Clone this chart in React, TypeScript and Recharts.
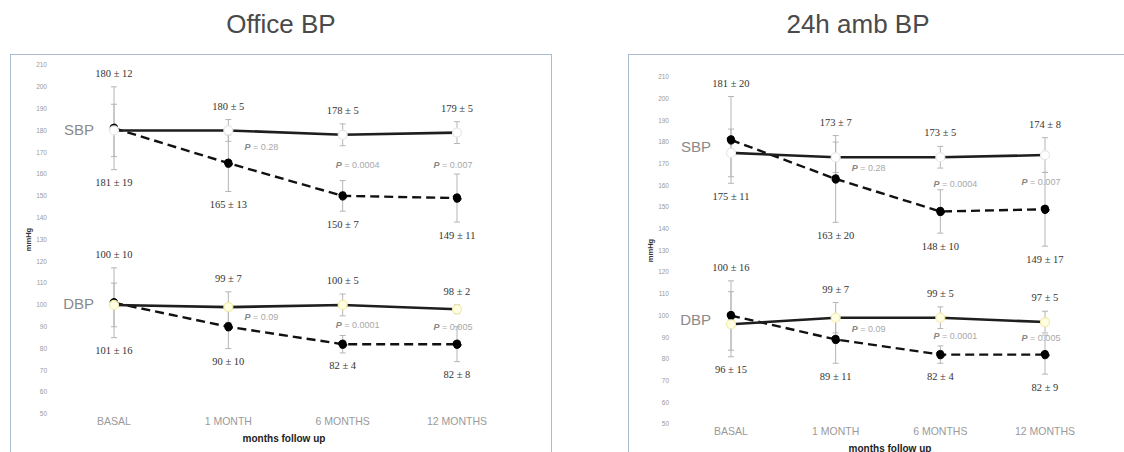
import { ErrorBar, Label, LabelList, Line, LineChart, XAxis, YAxis } from "recharts";

const CATEGORIES = ["BASAL", "1 MONTH", "6 MONTHS", "12 MONTHS"];
const Y_TICKS = [50, 60, 70, 80, 90, 100, 110, 120, 130, 140, 150, 160, 170, 180, 190, 200, 210];

// Office BP — solid line (a) and dashed line (b)
const OFFICE_SBP_A = [180, 180, 178, 179];
const OFFICE_SBP_A_SD = [12, 5, 5, 5];
const OFFICE_SBP_B = [181, 165, 150, 149];
const OFFICE_SBP_B_SD = [19, 13, 7, 11];
const OFFICE_SBP_P = ["", "0.28", "0.0004", "0.007"];
const OFFICE_SBP_UPPER_IS_A = [true, true, true, true];

const OFFICE_DBP_A = [100, 99, 100, 98];
const OFFICE_DBP_A_SD = [10, 7, 5, 2];
const OFFICE_DBP_B = [101, 90, 82, 82];
const OFFICE_DBP_B_SD = [16, 10, 4, 8];
const OFFICE_DBP_P = ["", "0.09", "0.0001", "0.005"];
const OFFICE_DBP_UPPER_IS_A = [true, true, true, true];

// 24h ambulatory BP
const AMB_SBP_A = [175, 173, 173, 174];
const AMB_SBP_A_SD = [11, 7, 5, 8];
const AMB_SBP_B = [181, 163, 148, 149];
const AMB_SBP_B_SD = [20, 20, 10, 17];
const AMB_SBP_P = ["", "0.28", "0.0004", "0.007"];
const AMB_SBP_UPPER_IS_A = [false, true, true, true];

const AMB_DBP_A = [96, 99, 99, 97];
const AMB_DBP_A_SD = [15, 7, 5, 5];
const AMB_DBP_B = [100, 89, 82, 82];
const AMB_DBP_B_SD = [16, 11, 4, 9];
const AMB_DBP_P = ["", "0.09", "0.0001", "0.005"];
const AMB_DBP_UPPER_IS_A = [false, true, true, true];

type Group = {
  name: string;
  a: number[];
  aSd: number[];
  b: number[];
  bSd: number[];
  p: string[];
  upperIsA: boolean[];
};

const pm = (v: number, sd: number) => `${v} ± ${sd}`;

function buildRows(s: Group, d: Group) {
  return CATEGORIES.map((cat, i) => {
    const row: Record<string, string | number> = { cat };
    for (const [k, g] of [["s", s], ["d", d]] as [string, Group][]) {
      const a = g.a[i];
      const b = g.b[i];
      const aText = pm(a, g.aSd[i]);
      const bText = pm(b, g.bSd[i]);
      row[k + "a"] = a;
      row[k + "aSd"] = g.aSd[i];
      row[k + "b"] = b;
      row[k + "bSd"] = g.bSd[i];
      row[k + "Top"] = Math.max(a + g.aSd[i], b + g.bSd[i]);
      row[k + "Bot"] = Math.min(a - g.aSd[i], b - g.bSd[i]);
      row[k + "TopText"] = g.upperIsA[i] ? aText : bText;
      row[k + "BotText"] = g.upperIsA[i] ? bText : aText;
      row[k + "Mid"] = (a + b) / 2;
      row[k + "Tag"] = i === 0 ? g.name : g.p[i];
    }
    return row;
  });
}

const officeRows = buildRows(
  { name: "SBP", a: OFFICE_SBP_A, aSd: OFFICE_SBP_A_SD, b: OFFICE_SBP_B, bSd: OFFICE_SBP_B_SD, p: OFFICE_SBP_P, upperIsA: OFFICE_SBP_UPPER_IS_A },
  { name: "DBP", a: OFFICE_DBP_A, aSd: OFFICE_DBP_A_SD, b: OFFICE_DBP_B, bSd: OFFICE_DBP_B_SD, p: OFFICE_DBP_P, upperIsA: OFFICE_DBP_UPPER_IS_A }
);

const ambRows = buildRows(
  { name: "SBP", a: AMB_SBP_A, aSd: AMB_SBP_A_SD, b: AMB_SBP_B, bSd: AMB_SBP_B_SD, p: AMB_SBP_P, upperIsA: AMB_SBP_UPPER_IS_A },
  { name: "DBP", a: AMB_DBP_A, aSd: AMB_DBP_A_SD, b: AMB_DBP_B, bSd: AMB_DBP_B_SD, p: AMB_DBP_P, upperIsA: AMB_DBP_UPPER_IS_A }
);

const SANS = "'Liberation Sans', Arial, sans-serif";
const SERIF = "'Liberation Serif', serif";
const P_DX = [0, 33, 15, -4];

function tagContent(props: any) {
  const vb = props.viewBox || {};
  const x = vb.x ?? props.x;
  const y = vb.y ?? props.y;
  const value = String(props.value ?? "");
  const index = typeof props.index === "number" ? props.index : 1;
  if (!value) return null;
  if (value === "SBP" || value === "DBP") {
    return (
      <text x={x - 20} y={y} textAnchor="end" dominantBaseline="central" fontSize={15} fill="#8a8a8a" fontFamily={SANS}>
        {value}
      </text>
    );
  }
  return (
    <text x={x + (P_DX[index] ?? 12)} y={y} textAnchor="middle" dominantBaseline="central" fontSize={9} fill="#a8a8a8" fontFamily={SANS}>
      <tspan fontStyle="italic" fontWeight="bold" fill="#888">P</tspan>
      {` = ${value}`}
    </text>
  );
}

function openDot(fill: string, stroke: string) {
  return (props: any) => (
    <circle key={`dot-${props.index}`} cx={props.cx} cy={props.cy} r={4.5} fill={fill} stroke={stroke} strokeWidth={1.2} />
  );
}

function Panel({
  rows,
  width,
  height,
  marginTop,
  marginRight,
  marginBottom,
  axisWidth,
  xAxisHeight,
  padLeft,
  padRight,
}: {
  rows: Record<string, string | number>[];
  width: number;
  height: number;
  marginTop: number;
  marginRight: number;
  marginBottom: number;
  axisWidth: number;
  xAxisHeight: number;
  padLeft: number;
  padRight: number;
}) {
  const groups = [
    { k: "s", dot: openDot("#ffffff", "#e6e6e6") },
    { k: "d", dot: openDot("#fffde2", "#f1eba8") },
  ];
  return (
    <LineChart
      width={width}
      height={height}
      data={rows}
      margin={{ top: marginTop, right: marginRight, bottom: marginBottom, left: 0 }}
    >
      <XAxis
        dataKey="cat"
        axisLine={false}
        tickLine={false}
        tickSize={0}
        tickMargin={4}
        height={xAxisHeight}
        padding={{ left: padLeft, right: padRight }}
        tick={{ fontSize: 10.5, fill: "#9a9a9a", fontFamily: SANS }}
        interval={0}
      >
        <Label
          content={(p: any) => {
            const vb = p.viewBox || {};
            return (
              <text x={vb.x + vb.width / 2 + 9} y={vb.y + 24} textAnchor="middle" dominantBaseline="central" fontSize={10} fontWeight="bold" fill="#222" fontFamily={SANS}>
                months follow up
              </text>
            );
          }}
        />
      </XAxis>
      <YAxis
        type="number"
        domain={[50, 210]}
        ticks={Y_TICKS}
        interval={0}
        width={axisWidth}
        axisLine={false}
        tickLine={false}
        tickSize={0}
        tickMargin={3}
        tick={{ fontSize: 6.5, fill: "#9a9a9a", fontFamily: SANS }}
      >
        <Label
          content={(p: any) => {
            const vb = p.viewBox || {};
            const cx = vb.x + vb.width - 22;
            const cy = vb.y + vb.height / 2;
            return (
              <text x={cx} y={cy} transform={`rotate(-90 ${cx} ${cy})`} textAnchor="middle" dominantBaseline="central" fontSize={7.5} fontWeight="bold" fill="#333" fontFamily={SANS}>
                mmHg
              </text>
            );
          }}
        />
      </YAxis>
      {groups.map(({ k, dot }) => [
        <Line
          key={k + "b"}
          dataKey={k + "b"}
          stroke="#111"
          strokeWidth={2.4}
          strokeDasharray="9 5"
          dot={{ r: 4.2, fill: "#000", stroke: "#000", strokeWidth: 1 }}
          activeDot={false}
          isAnimationActive={false}
        >
          <ErrorBar dataKey={k + "bSd"} width={3} stroke="#b5b5b5" strokeWidth={1} direction="y" />
        </Line>,
        <Line
          key={k + "a"}
          dataKey={k + "a"}
          stroke="#1e1e1e"
          strokeWidth={2.6}
          dot={dot}
          activeDot={false}
          isAnimationActive={false}
        >
          <ErrorBar dataKey={k + "aSd"} width={3} stroke="#b5b5b5" strokeWidth={1} direction="y" />
        </Line>,
        <Line key={k + "Top"} dataKey={k + "Top"} stroke="none" dot={false} activeDot={false} isAnimationActive={false}>
          <LabelList dataKey={k + "TopText"} position="top" offset={10} fontSize={10.5} fill="#333" fontFamily={SERIF} />
        </Line>,
        <Line key={k + "Bot"} dataKey={k + "Bot"} stroke="none" dot={false} activeDot={false} isAnimationActive={false}>
          <LabelList dataKey={k + "BotText"} position="bottom" offset={9} fontSize={10.5} fill="#333" fontFamily={SERIF} />
        </Line>,
        <Line key={k + "Mid"} dataKey={k + "Mid"} stroke="none" dot={false} activeDot={false} isAnimationActive={false}>
          <LabelList dataKey={k + "Tag"} content={tagContent} />
        </Line>,
      ])}
    </LineChart>
  );
}

export default function App() {
  return (
    <div style={{ position: "absolute", left: 0, top: 0, width: 1124, height: 452, overflow: "hidden", background: "#fff" }}>
      <svg width={1124} height={50} style={{ position: "absolute", left: 0, top: 0 }}>
        <text x={281} y={33} textAnchor="middle" fontSize={26} fill="#4a4a4a" fontFamily={SANS}>
          Office BP
        </text>
        <text x={858} y={33} textAnchor="middle" fontSize={26} fill="#4a4a4a" fontFamily={SANS}>
          24h amb BP
        </text>
      </svg>
      <div style={{ position: "absolute", left: 10, top: 54, width: 540, height: 420, border: "1.5px solid #a9bad2" }} />
      <div style={{ position: "absolute", left: 628, top: 54, width: 540, height: 420, border: "1.5px solid #a9bad2" }} />
      <div style={{ position: "absolute", left: 10, top: 54 }}>
        <Panel
          rows={officeRows}
          width={542}
          height={398}
          marginTop={11}
          marginRight={52}
          marginBottom={8}
          axisWidth={40}
          xAxisHeight={30}
          padLeft={64}
          padRight={43}
        />
      </div>
      <div style={{ position: "absolute", left: 628, top: 54 }}>
        <Panel
          rows={ambRows}
          width={496}
          height={398}
          marginTop={23}
          marginRight={34}
          marginBottom={2}
          axisWidth={44}
          xAxisHeight={26}
          padLeft={59}
          padRight={45}
        />
      </div>
    </div>
  );
}
